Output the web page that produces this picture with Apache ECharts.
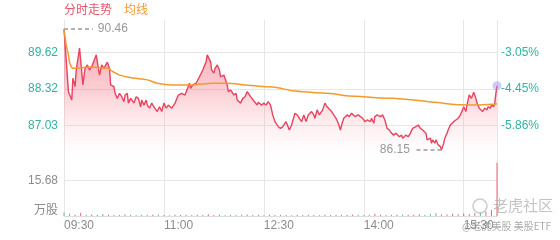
<!DOCTYPE html>
<html><head><meta charset="utf-8">
<script src="https://cdn.jsdelivr.net/npm/echarts@6/dist/echarts.min.js"></script>
<style>html,body{margin:0;padding:0;background:#fff}#c{width:560px;height:240px}</style>
</head><body><div id="c"></div>
<script>
// minutes since 09:30
const priceMinutes = [0,2,4,7,8,10,11,14,16,17,19,21,23,25,26,29,31,32,34,36,39,41,42,45,46,48,50,52,54,55,57,58,60,61,63,65,67,69,70,72,74,75,77,79,81,84,86,88,90,92,94,97,100,103,106,109,110,113,114,116,119,122,125,128,129,132,133,135,136,138,140,141,144,145,147,148,150,153,155,156,159,161,163,165,168,169,172,174,175,178,180,182,184,186,188,190,193,195,197,200,203,205,208,210,212,214,216,218,220,223,225,226,228,230,233,235,237,238,241,243,245,247,249,250,252,255,257,259,262,265,267,269,271,273,276,277,279,280,282,285,287,289,291,293,295,297,299,302,304,305,308,310,312,314,317,319,321,323,324,326,327,330,331,332,334,335,337,339,340,342,343,345,346,348,351,353,355,357,359,360,362,363,365,366,367,369,371,372,374,377,379,381,382,384,385,387,388,389,390];
const prices = [90.46,89.36,88.23,87.93,88.71,88.41,89.00,89.78,88.94,88.47,89.06,89.18,89.00,89.12,89.18,89.54,89.06,88.82,89.18,89.06,89.28,89.06,88.47,88.41,88.17,87.99,88.17,88.05,87.87,88.11,88.17,87.82,87.99,88.05,87.82,88.05,87.99,87.69,87.93,87.75,87.93,87.75,87.64,87.82,87.69,87.52,87.69,87.52,87.82,87.64,87.75,87.64,87.82,88.11,88.17,88.11,88.05,88.53,88.35,88.47,88.53,88.76,89.00,89.30,89.54,89.30,89.00,88.89,89.06,89.18,89.00,88.76,88.82,88.76,88.47,88.23,88.29,88.11,88.17,87.93,87.82,87.99,88.05,88.23,88.05,87.99,87.85,87.75,87.85,87.75,87.82,87.75,87.87,87.75,87.40,87.16,86.98,86.92,86.98,87.16,86.86,87.04,87.46,87.40,87.28,87.16,87.40,87.16,87.40,87.52,87.40,87.28,87.58,87.40,87.58,87.82,87.69,87.64,87.52,87.40,87.28,87.10,86.86,87.04,87.28,87.40,87.34,87.46,87.34,87.40,87.34,87.28,87.16,87.22,87.16,87.28,87.10,87.34,87.40,87.34,87.40,87.22,86.92,86.86,86.75,86.68,86.75,86.62,86.68,86.57,86.68,86.62,86.75,86.92,86.98,87.04,86.92,86.86,86.92,86.75,86.51,86.57,86.39,86.51,86.39,86.51,86.33,86.27,86.15,86.39,86.57,86.75,86.86,87.04,87.16,87.22,87.28,87.40,87.58,87.69,87.52,87.75,88.11,88.17,87.99,88.21,87.99,87.82,87.64,87.52,87.64,87.58,87.69,87.64,87.75,87.69,87.82,88.17,88.44];
const avgMinutes = [0,2,4,5,8,14,23,32,40,43,50,62,75,84,97,114,134,146,163,179,191,206,224,245,254,267,285,297,327,345,357,371,387,390];
const avgPrices = [90.46,89.89,89.54,89.29,89.06,89.07,89.11,89.09,89.06,88.97,88.82,88.72,88.65,88.53,88.47,88.47,88.53,88.53,88.47,88.41,88.38,88.26,88.20,88.14,88.08,88.06,88.00,87.99,87.88,87.80,87.76,87.75,87.78,87.80];
const volMinutes = [0,5,10,15,20,25,30,35,40,45,50,55,60,65,70,75,80,85,90,95,100,105,110,115,120,125,130,135,140,145,150,155,160,165,170,175,180,185,190,195,200,205,210,215,220,225,230,235,240,245,250,255,260,265,270,275,280,285,290,295,300,305,310,315,320,325,330,335,340,345,350,355,360,365,370,375,380,385,390];
const volumes = [1.6,1.0,0.6,1.4,0.5,0.7,0.4,0.9,0.5,0.6,0.4,0.8,0.5,0.3,0.6,0.4,0.5,0.7,0.4,0.3,
  0.5,0.4,0.6,0.3,0.5,0.4,0.8,0.4,0.5,0.3,0.6,0.4,0.5,0.7,0.4,0.5,0.3,0.6,0.4,0.5,
  0.4,0.3,0.5,0.4,0.6,0.4,0.3,0.5,0.4,0.6,0.5,0.4,0.7,0.5,0.4,0.6,1.0,0.5,0.4,0.6,
  0.5,0.7,0.5,0.6,0.8,0.6,0.9,1.2,0.8,0.7,1.0,0.8,1.1,0.9,1.3,1.5,2.0,2.6,23.5];
const timeTickMinutes = [0,90,180,270,360];
const timeLabels = ['09:30','11:00','12:30','14:00','15:30'];
const priceTicks = [87.03,88.32,89.62];
const pctTicks = ['-5.86%','-4.45%','-3.05%'];
const volTicks = [0,15.68];
const volTickLabels = ['万股','15.68'];
const legendNames = ['分时走势','均线'];

const FONT = 'Arial, "Liberation Sans", "Noto Sans CJK SC", sans-serif';
const RED = '#e8435f', ORANGE = '#f39a2e', TEAL = '#2fb3a3', GRAY = '#8c8c8c', GRID = '#e6e6e6';

const priceData = priceMinutes.map((m, i) => [m, prices[i]]);
const avgData = avgMinutes.map((m, i) => [m, avgPrices[i]]);
let maxI = 0, minI = 0;
prices.forEach((p, i) => { if (p > prices[maxI]) maxI = i; if (p < prices[minI]) minI = i; });
const maxM = priceMinutes[maxI], maxP = prices[maxI];
const minM = priceMinutes[minI], minP = prices[minI];
function priceAt(m) { let v = prices[0]; for (let i = 0; i < priceMinutes.length; i++) { if (priceMinutes[i] <= m) v = prices[i]; else break; } return v; }
const volData = volMinutes.map((m, i) => {
  const up = priceAt(m) >= priceAt(m - 5) && m !== 0;
  return { value: [m, volumes[i]], itemStyle: { color: up ? 'rgba(232,74,100,0.85)' : 'rgba(47,179,163,0.85)' } };
});
const lastM = priceMinutes[priceMinutes.length - 1], lastP = prices[prices.length - 1];

function pick(v, ticks, labels, tol) {
  for (let i = 0; i < ticks.length; i++) if (Math.abs(v - ticks[i]) < tol) return labels[i];
  return '';
}

const chart = echarts.init(document.getElementById('c'), null, { renderer: 'canvas' });
const pMin = 85.735, pStep = 1.295, pMax = 90.785;
chart.setOption({
  animation: false,
  textStyle: { fontFamily: FONT },
  grid: [
    { left: 64, right: 63, top: 20, height: 141.6 },
    { left: 64, right: 63, top: 145, height: 71 }
  ],
  xAxis: [
    { gridIndex: 0, type: 'value', min: 0, max: 390, interval: 90,
      axisLine: { show: false }, axisTick: { show: false }, axisLabel: { show: false },
      splitLine: { show: true, lineStyle: { color: GRID, width: 1 } } },
    { gridIndex: 1, type: 'value', min: 0, max: 390, interval: 90,
      axisLine: { show: true, lineStyle: { color: '#dddddd' } }, axisTick: { show: false },
      axisLabel: { show: true, align: 'left', color: GRAY, fontSize: 12, margin: 4, fontFamily: FONT,
        formatter: v => pick(v, timeTickMinutes, timeLabels, 0.5) },
      splitLine: { show: true, lineStyle: { color: GRID, width: 1 } } }
  ],
  yAxis: [
    { gridIndex: 0, type: 'value', position: 'left', min: pMin, max: pMax, interval: pStep,
      axisLine: { show: false }, axisTick: { show: false },
      axisLabel: { color: TEAL, fontSize: 12, margin: 6, fontFamily: FONT,
        formatter: v => pick(v, priceTicks, priceTicks.map(t => t.toFixed(2)), 0.01) },
      splitLine: { show: true, showMinLine: false, showMaxLine: false, lineStyle: { color: GRID } } },
    { gridIndex: 0, type: 'value', position: 'right', min: pMin, max: pMax, interval: pStep,
      axisLine: { show: false }, axisTick: { show: false },
      axisLabel: { color: TEAL, fontSize: 12, margin: 4, fontFamily: FONT,
        formatter: v => pick(v, priceTicks, pctTicks, 0.01) },
      splitLine: { show: false } },
    { gridIndex: 1, type: 'value', min: 0, max: 31.36, interval: 15.68,
      axisLine: { show: false }, axisTick: { show: false },
      axisLabel: { color: GRAY, fontSize: 12, margin: 6, fontFamily: FONT,
        formatter: v => { const s = pick(v, volTicks, volTickLabels, 0.01); return v === 0 ? '{u|' + s + '}' : s; },
        rich: { u: { color: GRAY, fontSize: 12, padding: [0, 0, 10, 0], fontFamily: FONT } } },
      splitLine: { show: true, showMinLine: false, showMaxLine: false, lineStyle: { color: GRID } } }
  ],
  series: [
    { name: legendNames[0], type: 'line', xAxisIndex: 0, yAxisIndex: 0, data: priceData,
      symbol: 'none', lineStyle: { color: RED, width: 1.4 }, z: 3,
      areaStyle: { color: new echarts.graphic.LinearGradient(0, 0, 0, 1, [
        { offset: 0, color: 'rgba(238,60,88,0.7)' },
        { offset: 0.45, color: 'rgba(242,95,115,0.45)' },
        { offset: 0.8, color: 'rgba(250,170,180,0.18)' },
        { offset: 1, color: 'rgba(255,255,255,0)' }]) },
      markLine: { silent: true, symbol: ['none', 'none'], animation: false,
        lineStyle: { type: [4, 3], color: '#9a9a9a', width: 1.5 },
        label: { show: true, position: 'end', color: '#999', fontSize: 12, distance: 5, fontFamily: FONT,
          formatter: p => Number(p.value).toFixed(2) },
        emphasis: { disabled: true },
        data: [
          [{ coord: [maxM, maxP], value: maxP }, { coord: [maxM + 26, maxP], value: maxP }],
          [{ coord: [minM, minP], value: minP }, { coord: [minM - 24, minP], value: minP }]
        ] } },
    { name: legendNames[1], type: 'line', xAxisIndex: 0, yAxisIndex: 0, data: avgData,
      symbol: 'none', smooth: 0.3, lineStyle: { color: ORANGE, width: 1.5 }, z: 4 },
    { type: 'scatter', xAxisIndex: 0, yAxisIndex: 0, data: [[lastM, lastP]], symbolSize: 9,
      itemStyle: { color: 'rgba(150,150,245,0.6)' }, z: 5, silent: true },
    { type: 'bar', xAxisIndex: 1, yAxisIndex: 2, data: volData, barWidth: 1, z: 3 }
  ],
  graphic: [
    { type: 'text', left: 64, top: 3, style: { text: legendNames[0], fill: '#e8546b', font: '12px "Noto Sans CJK SC", sans-serif' } },
    { type: 'text', left: 124, top: 3, style: { text: legendNames[1], fill: ORANGE, font: '12px "Noto Sans CJK SC", sans-serif' } },
    { type: 'circle', shape: { cx: 480, cy: 206, r: 7 }, style: { fill: 'none', stroke: 'rgba(170,170,170,0.6)', lineWidth: 1.5 }, z: 10 },
    { type: 'text', left: 493, top: 198, style: { text: '老虎社区', fill: 'rgba(175,175,175,0.75)', font: '15px "Noto Sans CJK SC", sans-serif' }, z: 10 },
    { type: 'text', left: 462, top: 221, style: { text: '@老虎美股 美股ETF', fill: 'rgba(150,150,150,0.8)', font: '10px "Noto Sans CJK SC", sans-serif' }, z: 10 }
  ]
});
</script></body></html>
